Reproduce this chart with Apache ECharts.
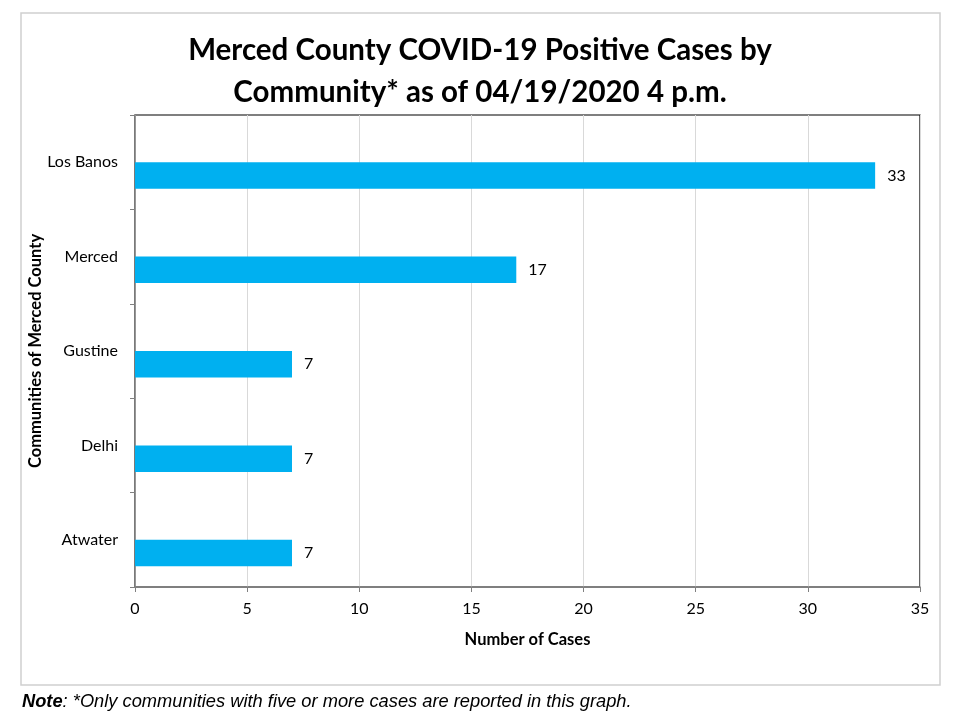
<!DOCTYPE html>
<html>
<head>
<meta charset="utf-8">
<script src="https://cdn.jsdelivr.net/npm/echarts@6/dist/echarts.min.js"></script>
<style>html,body{margin:0;padding:0;background:#fff}#c{width:960px;height:727px}</style>
</head>
<body>
<div id="c"></div>
<script>
// Data (top to bottom as shown)
const communities = ['Los Banos', 'Merced', 'Gustine', 'Delhi', 'Atwater'];
const cases = [33, 17, 7, 7, 7];
const xTicks = { min: 0, max: 35, interval: 5 };
const titleText = 'Merced County COVID-19 Positive Cases by\nCommunity* as of 04/19/2020 4 p.m.';
const xAxisTitle = 'Number of Cases';
const yAxisTitle = 'Communities of Merced County';

const FONT = 'Lato';
const chart = echarts.init(document.getElementById('c'), null, { renderer: 'canvas' });

const cats = communities.slice().reverse();
const vals = cases.slice().reverse();

chart.setOption({
  animation: false,
  backgroundColor: '#fff',
  textStyle: { fontFamily: FONT },
  title: {
    text: titleText,
    left: 'center',
    top: 24,
    textStyle: { fontFamily: FONT, fontSize: 29.5, fontWeight: 'bold', color: '#000', lineHeight: 42 }
  },
  grid: {
    left: 135, right: 40, top: 115, bottom: 140,
    show: true, borderColor: '#000', borderWidth: 1.2, backgroundColor: 'transparent'
  },
  xAxis: {
    type: 'value',
    min: xTicks.min, max: xTicks.max, interval: xTicks.interval,
    name: xAxisTitle, nameLocation: 'middle', nameGap: 44, nameMoveOverlap: false,
    nameTextStyle: { fontFamily: FONT, fontSize: 16.5, fontWeight: 'bold', color: '#000' },
    axisLine: { show: true, lineStyle: { color: '#808080', width: 1.5 } },
    axisTick: { show: true, length: 5, lineStyle: { color: '#808080' } },
    axisLabel: { fontSize: 16, color: '#000', margin: 14 },
    splitLine: { show: true, lineStyle: { color: '#d9d9d9' } }
  },
  yAxis: {
    type: 'category',
    data: cats,
    name: yAxisTitle, nameLocation: 'middle', nameGap: 91, nameRotate: 90, nameMoveOverlap: false,
    nameTextStyle: { fontFamily: FONT, fontSize: 16.5, fontWeight: 'bold', color: '#000' },
    axisLine: { show: true, lineStyle: { color: '#808080', width: 1.5 } },
    axisTick: { show: true, length: 5, inside: false, lineStyle: { color: '#808080' } },
    axisLabel: { fontSize: 16, color: '#000', margin: 17 },
    splitLine: { show: false }
  },
  series: [
    { type: 'bar', data: cats.map(() => null), barWidth: 26.5, barGap: '0%', silent: true },
    {
      type: 'bar', data: vals, barWidth: 26.5, barGap: '0%',
      itemStyle: { color: '#00B0F0' },
      label: { show: true, position: 'right', distance: 12, fontSize: 16, color: '#000', fontFamily: FONT }
    }
  ],
  graphic: [
    { type: 'rect', shape: { x: 21, y: 13, width: 919, height: 672 }, style: { fill: 'none', stroke: '#d0d0d0', lineWidth: 1.5 }, z: -1 },
    {
      type: 'text', left: 22, top: 693,
      style: {
        text: '{b|Note}{i|: *Only communities with five or more cases are reported in this graph.}',
        rich: {
          b: { fontFamily: 'Liberation Sans', fontSize: 18.3, fontWeight: 'bold', fontStyle: 'italic', fill: '#000' },
          i: { fontFamily: 'Liberation Sans', fontSize: 18.3, fontStyle: 'italic', fill: '#000' }
        }
      }
    }
  ]
});
</script>
</body>
</html>
